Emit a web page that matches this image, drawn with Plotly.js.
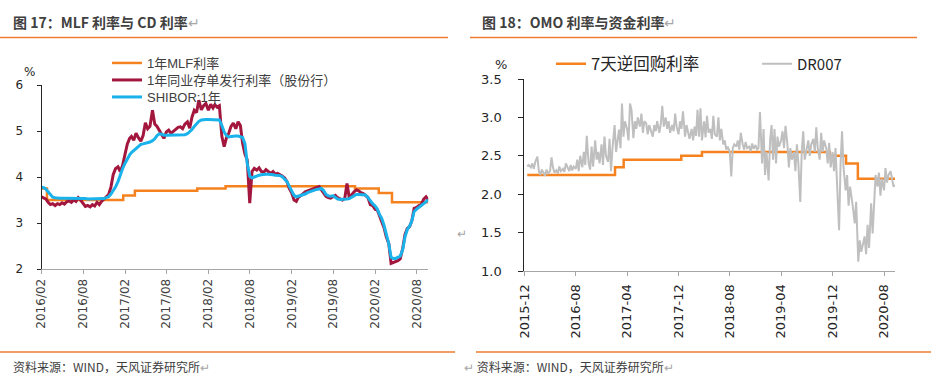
<!DOCTYPE html>
<html><head><meta charset="utf-8">
<script src="https://cdn.plot.ly/plotly-3.0.1.min.js"></script>
<style>html,body{margin:0;padding:0;background:#fff}#chart{width:940px;height:385px}</style>
</head><body><div id="chart"></div>
<script>
// ---------- Left chart: MLF vs CD ----------
const leftMonths = ["2016-02","2016-03","2016-04","2016-05","2016-06","2016-07","2016-08","2016-09","2016-10","2016-11","2016-12",
"2017-01","2017-02","2017-03","2017-04","2017-05","2017-06","2017-07","2017-08","2017-09","2017-10","2017-11","2017-12",
"2018-01","2018-02","2018-03","2018-04","2018-05","2018-06","2018-07","2018-08","2018-09","2018-10","2018-11","2018-12",
"2019-01","2019-02","2019-03","2019-04","2019-05","2019-06","2019-07","2019-08","2019-09","2019-10","2019-11","2019-12",
"2020-01","2020-02","2020-03","2020-04","2020-05","2020-06","2020-07","2020-08","2020-09"];
const leftDays = ["01","11","21"];
const shibor1y = [
3.78,3.77,3.73, 3.68,3.60,3.56, 3.55,3.54,3.54, 3.54,3.54,3.54, 3.54,3.54,3.54, 3.54,3.53,3.53, 3.53,3.53,3.52, 3.52,3.52,3.52, 3.52,3.52,3.52, 3.53,3.55,3.57, 3.63,3.70,3.78,
3.90,4.05,4.18, 4.30,4.40,4.48, 4.53,4.57,4.62, 4.67,4.71,4.72, 4.73,4.74,4.76, 4.79,4.83,4.90, 4.94,4.93,4.91, 4.91,4.91,4.91, 4.91,4.91,4.91, 4.91,4.91,4.92, 4.94,4.98,5.03, 5.10,5.16,5.21,
5.24,5.25,5.25, 5.25,5.25,5.25, 5.25,5.25,5.24, 5.12,4.98,4.90, 4.87,4.88,4.89, 4.89,4.89,4.88, 4.86,4.72,4.30, 4.02,3.98,4.00, 4.03,4.04,4.05, 4.06,4.06,4.06, 4.06,4.05,4.04, 4.04,4.03,4.01,
3.96,3.90,3.80, 3.70,3.60,3.57, 3.58,3.60,3.61, 3.63,3.66,3.68, 3.70,3.72,3.73, 3.74,3.75,3.70, 3.62,3.59,3.58, 3.59,3.56,3.52, 3.51,3.51,3.52, 3.52,3.53,3.56, 3.60,3.62,3.62, 3.62,3.61,3.61,
3.55,3.48,3.42, 3.37,3.30,3.18, 3.10,2.95,2.75, 2.55,2.25,2.23, 2.23,2.25,2.28, 2.42,2.70,2.86, 2.93,3.05,3.25, 3.30,3.35,3.38, 3.42,3.46,3.50];
const cdRate = [
3.57,3.55,3.52, 3.45,3.40,3.42, 3.38,3.42,3.40, 3.44,3.41,3.46, 3.48,3.45,3.50, 3.47,3.55,3.50, 3.42,3.36,3.38, 3.35,3.40,3.37, 3.45,3.40,3.47, 3.52,3.58,3.62, 3.78,4.05,4.18,
4.22,4.12,4.25, 4.50,4.72,4.84, 4.88,4.80,4.95, 4.85,4.78,4.90, 5.18,5.05,5.10, 5.45,5.15,5.10, 5.02,4.95,4.84, 4.98,5.02,4.95, 5.00,5.05,5.08, 5.09,5.05,5.15, 5.20,5.06,5.30, 5.45,5.40,5.67,
5.46,5.55,5.60, 5.45,5.58,5.50, 5.57,5.52,5.55, 4.88,4.66,4.85, 4.95,5.10,5.17, 5.05,5.20,5.12, 4.73,4.50,4.37, 3.43,4.12,4.19, 4.15,4.20,4.12, 4.10,4.16,4.12, 4.08,4.12,4.06, 4.08,4.04,4.02,
3.98,3.90,3.75, 3.65,3.50,3.47, 3.55,3.60,3.63, 3.68,3.70,3.72, 3.74,3.76,3.78, 3.79,3.72,3.65, 3.58,3.55,3.54, 3.57,3.60,3.55, 3.52,3.50,3.53, 3.86,3.55,3.62, 3.68,3.72,3.70, 3.66,3.64,3.60,
3.55,3.40,3.38, 3.30,3.28,3.15, 3.05,2.90,2.70, 2.55,2.12,2.14, 2.16,2.18,2.22, 2.45,2.75,2.88, 2.92,3.05,3.32, 3.34,3.38,3.40, 3.52,3.57,3.50];
const mlfDates = ["2016-02-01","2016-02-25","2017-01-24","2017-03-16","2017-12-14","2018-04-17","2019-11-05","2020-02-17","2020-04-15","2020-09-21"];
const mlfRate  = [3.75,3.50,3.60,3.70,3.75,3.80,3.75,3.65,3.45,3.45];
const leftTickVals = ["2016-02-01","2016-08-01","2017-02-01","2017-08-01","2018-02-01","2018-08-01","2019-02-01","2019-08-01","2020-02-01","2020-08-01"];
const leftTickText = ["2016/02","2016/08","2017/02","2017/08","2018/02","2018/08","2019/02","2019/08","2020/02","2020/08"];

// ---------- Right chart: OMO vs DR007 ----------
const rightMonths = ["2015-12",
"2016-01","2016-02","2016-03","2016-04","2016-05","2016-06","2016-07","2016-08","2016-09","2016-10","2016-11","2016-12",
"2017-01","2017-02","2017-03","2017-04","2017-05","2017-06","2017-07","2017-08","2017-09","2017-10","2017-11","2017-12",
"2018-01","2018-02","2018-03","2018-04","2018-05","2018-06","2018-07","2018-08","2018-09","2018-10","2018-11","2018-12",
"2019-01","2019-02","2019-03","2019-04","2019-05","2019-06","2019-07","2019-08","2019-09","2019-10","2019-11","2019-12",
"2020-01","2020-02","2020-03","2020-04","2020-05","2020-06","2020-07","2020-08","2020-09"];
const rightDays = ["01","08","15","22"];
const dr007 = [
null,null,2.36,2.38,
2.35,2.40,2.33,2.42, 2.49,2.30,2.25,2.32, 2.28,2.24,2.32,2.27, 2.30,2.48,2.35,2.28, 2.31,2.27,2.36,2.30, 2.33,2.29,2.40,2.35,
2.30,2.38,2.31,2.36, 2.33,2.45,2.30,2.50, 2.35,2.55,2.38,2.76, 2.40,2.32,2.62,2.36, 2.70,2.45,2.55,2.40, 2.65,2.38,2.75,2.50,
2.42,2.72,2.30,2.60, 2.90,2.55,2.67,2.84, 2.60,3.18,2.75,2.95, 2.85,2.70,3.18,3.10, 2.73,2.95,2.85,3.00, 2.88,3.05,2.80,2.95,
2.92,2.78,2.90,2.84, 2.75,2.90,2.82,2.95, 2.80,2.92,3.15,2.88, 3.00,2.85,2.95,2.80, 2.90,2.82,3.05,2.88, 2.78,2.95,2.85,3.08,
2.75,2.90,2.82,2.72, 2.85,2.70,2.88,2.76, 3.10,2.75,3.12,2.70, 2.95,2.74,3.02,2.80, 2.85,2.72,3.02,2.78, 2.75,3.00,2.70,2.85,
2.65,2.70,2.58,2.62, 2.55,2.23,2.60,2.65, 2.62,2.70,2.58,2.80, 2.65,2.58,2.68,2.60, 2.62,2.56,2.66,2.59, 2.64,2.58,2.60,3.07,
2.40,2.85,2.25,2.55, 2.18,2.70,2.90,2.45, 2.85,2.40,2.75,2.62, 2.70,2.82,2.60,2.89, 2.65,2.35,2.60,2.45, 2.55,2.30,2.65,2.40,
1.90,2.55,2.82,2.45, 2.60,2.70,2.50,2.65, 2.72,2.55,2.87,2.60, 2.45,2.80,2.55,2.70, 2.60,2.40,2.67,2.35, 2.55,2.30,2.60,2.20,
1.53,2.40,2.82,2.35, 2.05,2.25,1.85,2.10, 1.95,1.80,1.62,1.90, 1.12,1.40,1.25,1.35, 1.45,1.22,1.60,1.30, 1.88,1.49,1.95,2.25,
2.10,2.28,1.98,2.20, 2.05,2.34,2.15,2.25, 2.30,2.18,2.10,2.12];
const omoDates = ["2015-12-15","2017-02-03","2017-03-16","2017-12-14","2018-03-22","2019-11-18","2020-02-03","2020-03-30","2020-09-22"];
const omoRate  = [2.25,2.35,2.45,2.50,2.55,2.50,2.40,2.20,2.20];
const rightTickVals = ["2015-12-01","2016-08-01","2017-04-01","2017-12-01","2018-08-01","2019-04-01","2019-12-01","2020-08-01"];
const rightTickText = ["2015-12","2016-08","2017-04","2017-12","2018-08","2019-04","2019-12","2020-08"];

// ---------- build date axes ----------
function expand(months, days){ const out=[]; months.forEach(m=>days.forEach(d=>out.push(m+"-"+d))); return out; }
const leftDates = expand(leftMonths, leftDays);
const rightDates = expand(rightMonths, rightDays);

const W=940,H=385;
const px = x=>x/W, py = y=>1-y/H;
const CJK = '"Noto Sans CJK SC", "Liberation Sans", sans-serif';
const LEGF = '"Liberation Sans", "Noto Sans CJK SC", sans-serif';
const TICKF = '"DejaVu Sans", sans-serif';

const traces = [
 {x:mlfDates,y:mlfRate,type:'scatter',mode:'lines',line:{shape:'hv',color:'#F5821F',width:2.5},name:'1年MLF利率',xaxis:'x',yaxis:'y',legend:'legend'},
 {x:leftDates,y:cdRate,type:'scatter',mode:'lines',line:{color:'#A3173E',width:3},name:'1年同业存单发行利率（股份行）',xaxis:'x',yaxis:'y',legend:'legend3'},
 {x:leftDates,y:shibor1y,type:'scatter',mode:'lines',line:{color:'#1AB2EA',width:3},name:'SHIBOR:1年',xaxis:'x',yaxis:'y',legend:'legend4'},
 {x:omoDates,y:omoRate,type:'scatter',mode:'lines',line:{shape:'hv',color:'#F5821F',width:2.5},name:'7天逆回购利率',xaxis:'x2',yaxis:'y2',legend:'legend2'},
 {x:rightDates,y:dr007,type:'scatter',mode:'lines',line:{color:'#BFBFBF',width:2},name:'DR007',xaxis:'x2',yaxis:'y2',legend:'legend5'}
];

const xCommon = {type:'date',showgrid:false,zeroline:false,showline:true,linecolor:'#A6A6A6',linewidth:1,
  ticks:'outside',ticklen:4,tickcolor:'#A6A6A6',tickangle:-90,tickfont:{family:TICKF,size:12,color:'#404040'}};
const yCommon = {showgrid:false,zeroline:false,showline:true,linecolor:'#262626',linewidth:1,
  ticks:'outside',ticklen:4,tickcolor:'#262626',tickfont:{family:TICKF,size:12,color:'#262626'}};
const legLeft = y=>({x:px(107),y:py(y),xanchor:'left',yanchor:'middle',bgcolor:'rgba(0,0,0,0)',font:{family:LEGF,size:13,color:'#404040'}});

const layout = {
  width:W,height:H,margin:{l:0,r:0,t:0,b:0,autoexpand:false},paper_bgcolor:'#fff',plot_bgcolor:'#fff',showlegend:true,
  xaxis:Object.assign({},xCommon,{domain:[px(41.5),px(428.3)],range:["2016-02-01","2020-09-21"],tickvals:leftTickVals,ticktext:leftTickText,anchor:'y',ticklabelstandoff:0}),
  yaxis:Object.assign({},yCommon,{domain:[py(269),py(85)],range:[2,6],dtick:1,anchor:'x',ticklabelstandoff:11}),
  xaxis2:Object.assign({},xCommon,{domain:[px(524.3),px(895)],range:["2015-12-01","2020-09-22"],tickvals:rightTickVals,ticktext:rightTickText,anchor:'y2',tickfont:{family:TICKF,size:13,color:'#262626'},ticklabelstandoff:3}),
  yaxis2:Object.assign({},yCommon,{domain:[py(271),py(79)],range:[1,3.5],dtick:0.5,tickformat:'.1f',anchor:'x2',ticklen:5,tickfont:{family:TICKF,size:13,color:'#262626'},ticklabelstandoff:14}),
  legend:legLeft(63),
  legend3:legLeft(80),
  legend4:legLeft(97),
  legend2:{x:px(551),y:py(64),xanchor:'left',yanchor:'middle',bgcolor:'rgba(0,0,0,0)',font:{family:CJK,size:16.5,color:'#262626'}},
  legend5:{x:px(757),y:py(64),xanchor:'left',yanchor:'middle',bgcolor:'rgba(0,0,0,0)',font:{family:CJK,size:15,color:'#262626'}},
  shapes:[
    {type:'line',xref:'paper',yref:'paper',x0:0,x1:px(448),y0:py(37.5),y1:py(37.5),line:{color:'#ED7D31',width:1.5}},
    {type:'line',xref:'paper',yref:'paper',x0:px(470),x1:px(917),y0:py(37.5),y1:py(37.5),line:{color:'#ED7D31',width:1.5}},
    {type:'line',xref:'paper',yref:'paper',x0:0,x1:px(455),y0:py(352),y1:py(352),line:{color:'#ED7D31',width:1.5}},
    {type:'line',xref:'paper',yref:'paper',x0:px(476),x1:px(931),y0:py(352),y1:py(352),line:{color:'#ED7D31',width:1.5}}
  ],
  annotations:[
    {xref:'paper',yref:'paper',x:px(11),y:py(22),xanchor:'left',yanchor:'middle',showarrow:false,text:'<b>图 17：MLF 利率与 CD 利率</b><span style="color:#A6A6A6">↵</span>',font:{family:CJK,size:14,color:'#404040'}},
    {xref:'paper',yref:'paper',x:px(480),y:py(22),xanchor:'left',yanchor:'middle',showarrow:false,text:'<b>图 18：OMO 利率与资金利率</b><span style="color:#A6A6A6">↵</span>',font:{family:CJK,size:14,color:'#404040'}},
    {xref:'paper',yref:'paper',x:px(11),y:py(366),xanchor:'left',yanchor:'middle',showarrow:false,text:'资料来源：WIND，天风证券研究所<span style="color:#A6A6A6">↵</span>',font:{family:CJK,size:12,color:'#404040'}},
    {xref:'paper',yref:'paper',x:px(462),y:py(366),xanchor:'left',yanchor:'middle',showarrow:false,text:'<span style="color:#A6A6A6">↵</span> 资料来源：WIND，天风证券研究所<span style="color:#A6A6A6">↵</span>',font:{family:CJK,size:12,color:'#404040'}},
    {xref:'paper',yref:'paper',x:px(462),y:py(232),xanchor:'center',yanchor:'middle',showarrow:false,text:'↵',font:{family:CJK,size:12,color:'#A6A6A6'}},
    {xref:'paper',yref:'paper',x:px(29),y:py(72),xanchor:'center',yanchor:'middle',showarrow:false,text:'%',font:{family:TICKF,size:12,color:'#262626'}},
    {xref:'paper',yref:'paper',x:px(501),y:py(64),xanchor:'center',yanchor:'middle',showarrow:false,text:'%',font:{family:TICKF,size:13,color:'#262626'}}
  ]
};
Plotly.newPlot('chart',traces,layout,{staticPlot:true,displayModeBar:false});
</script></body></html>
